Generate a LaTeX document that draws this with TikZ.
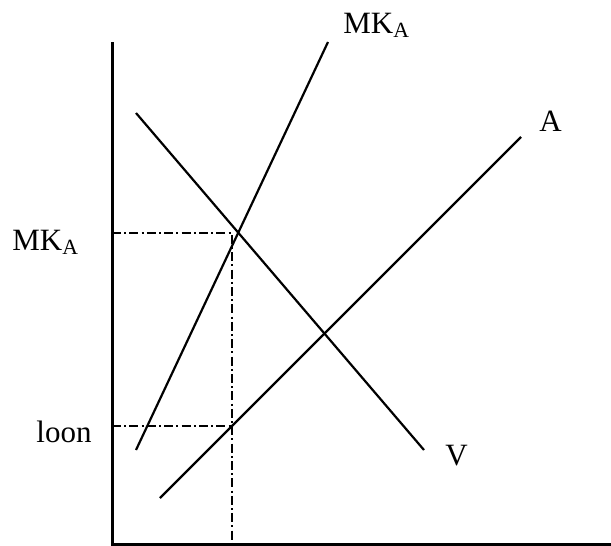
\documentclass[tikz,border=0pt]{standalone}
\usepackage{fontspec}
\setmainfont{Liberation Serif}
\usetikzlibrary{positioning}

\begin{document}
\begin{tikzpicture}[x=0.5pt, y=-0.5pt,
        curve/.style={line width=1.1pt},
        axisline/.style={line width=1.5pt},
        guide/.style={line width=1.1pt, dash pattern=on 4.5pt off 1.6pt on 1pt off 1.6pt},
        lbl/.style={anchor=base west, inner sep=0pt, font=\fontsize{15.5}{18}\selectfont}]
    \useasboundingbox (0,0) rectangle (611,546);

    \coordinate (origin) at (112,544);
    \coordinate (ytop) at (112,42);
    \coordinate (xend) at (611,544);

    \coordinate (mkstart) at (136,450);
    \coordinate (mkend) at (328,42);
    \coordinate (vstart) at (136,113);
    \coordinate (vend) at (424,450);
    \coordinate (astart) at (160,498);
    \coordinate (aend) at (521,137);

    \coordinate (qtop) at (232,233);
    \coordinate (qlow) at (232,426);
    \coordinate (qaxis) at (232,544);
    \coordinate (mkaxis) at (112,233);
    \coordinate (loonaxis) at (112,426);

    \node[lbl] (mklabel) at (343,33) {MK\textsubscript{A}};
    \node[lbl] (alabel) at (539,131) {A};
    \node[lbl] (vlabel) at (445,465) {V};
    \node[lbl] (mkleft) at (12,250) {MK\textsubscript{A}};
    \node[lbl] (loon) at (36,442) {loon};

    \draw[axisline] (ytop) -- (origin) -- (xend);

    \draw[curve] (mkstart) -- (mkend);
    \draw[curve] (vstart) -- (vend);
    \draw[curve] (astart) -- (aend);

    \draw[guide] (mkaxis) -- (qtop) -- (qaxis);
    \draw[guide] (loonaxis) -- (qlow);
\end{tikzpicture}
\end{document}
